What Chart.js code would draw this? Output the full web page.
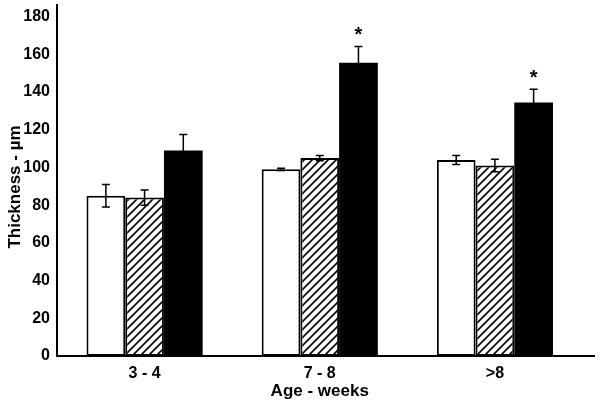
<!DOCTYPE html>
<html>
<head>
<meta charset="utf-8">
<script src="https://cdn.jsdelivr.net/npm/chart.js@4"></script>
<style>
html,body{margin:0;padding:0;background:#fff;}
#wrap{width:602px;height:408px;position:relative;}
</style>
</head>
<body>
<div id="wrap"><canvas id="c" width="602" height="408"></canvas></div>
<script>
const categories = ["3 - 4", "7 - 8", ">8"];
const whiteValues = [85, 99, 104];
const whiteErrors = [6, 0.6, 2.4];
const hatchValues = [84, 105, 101];
const hatchErrors = [4, 1.4, 3.3];
const blackValues = [109, 155.5, 134.5];
const blackErrors = [8.5, 8.7, 7];
const blackSignificant = [false, true, true];
const yTicks = [0, 20, 40, 60, 80, 100, 120, 140, 160, 180];
const xTitle = "Age - weeks";
const yTitle = "Thickness - µm";

const FONT = "'Liberation Sans', Arial, sans-serif";

function makeHatch() {
  const p = document.createElement('canvas');
  p.width = 8; p.height = 8;
  const g = p.getContext('2d');
  g.fillStyle = '#fff';
  g.fillRect(0, 0, 8, 8);
  g.strokeStyle = '#000';
  g.lineWidth = 1.6;
  g.beginPath();
  g.moveTo(-2, 10); g.lineTo(10, -2);
  g.moveTo(-2, 2); g.lineTo(2, -2);
  g.moveTo(6, 10); g.lineTo(10, 6);
  g.stroke();
  return document.getElementById('c').getContext('2d').createPattern(p, 'repeat');
}

const errorsByDataset = [whiteErrors, hatchErrors, blackErrors];
const starsByDataset = [null, null, blackSignificant];

const extras = {
  id: 'extras',
  afterDatasetsDraw(chart) {
    const ctx = chart.ctx;
    const y = chart.scales.y;
    const area = chart.chartArea;
    ctx.save();
    // axis extensions
    ctx.strokeStyle = '#000';
    ctx.lineWidth = 2;
    ctx.beginPath();
    ctx.moveTo(area.left, area.bottom);
    ctx.lineTo(595, area.bottom);
    ctx.moveTo(area.left, area.top);
    ctx.lineTo(area.left, 4);
    ctx.stroke();
    // error bars
    chart.data.datasets.forEach((ds, di) => {
      const meta = chart.getDatasetMeta(di);
      const errs = errorsByDataset[di];
      const stars = starsByDataset[di];
      meta.data.forEach((bar, i) => {
        const v = ds.data[i];
        const e = errs[i];
        const x = bar.x;
        const yt = y.getPixelForValue(v + e);
        const yb = y.getPixelForValue(v - e);
        ctx.strokeStyle = '#000';
        ctx.lineWidth = 1.5;
        ctx.beginPath();
        ctx.moveTo(x, yt); ctx.lineTo(x, yb);
        ctx.moveTo(x - 4, yt); ctx.lineTo(x + 4, yt);
        ctx.moveTo(x - 4, yb); ctx.lineTo(x + 4, yb);
        ctx.stroke();
        if (stars && stars[i]) {
          ctx.fillStyle = '#000';
          ctx.font = 'bold 20px ' + FONT;
          ctx.textAlign = 'center';
          ctx.textBaseline = 'alphabetic';
          ctx.fillText('*', x, yt - 5);
        }
      });
    });
    // axis titles
    ctx.fillStyle = '#000';
    ctx.textAlign = 'center';
    ctx.textBaseline = 'middle';
    ctx.font = 'bold 17px ' + FONT;
    ctx.fillText(xTitle, (area.left + area.right) / 2, 391);
    ctx.translate(15, 187);
    ctx.rotate(-Math.PI / 2);
    ctx.fillText(yTitle, 0, 0);
    ctx.restore();
  }
};

const hatch = makeHatch();

new Chart(document.getElementById('c'), {
  type: 'bar',
  data: {
    labels: categories,
    datasets: [
      { data: whiteValues, backgroundColor: '#fff', borderColor: '#000', borderWidth: 2, borderSkipped: false },
      { data: hatchValues, backgroundColor: hatch, borderColor: '#000', borderWidth: 2, borderSkipped: false },
      { data: blackValues, backgroundColor: '#000', borderColor: '#000', borderWidth: 0, borderSkipped: false }
    ]
  },
  options: {
    responsive: false,
    animation: false,
    devicePixelRatio: 1,
    layout: { padding: { left: 0, right: 19.5, top: 15, bottom: 0 } },
    plugins: { legend: { display: false }, tooltip: { enabled: false } },
    datasets: { bar: { barPercentage: 1, categoryPercentage: 0.663 } },
    scales: {
      x: {
        grid: { display: false, drawTicks: false },
        border: { display: true, color: '#000', width: 2 },
        ticks: { color: '#000', font: { family: FONT, size: 16, weight: 'bold' }, padding: 8 },
        afterFit(s) { s.height = 52; }
      },
      y: {
        min: 0, max: 180,
        afterBuildTicks(s) { s.ticks = yTicks.map(v => ({ value: v })); },
        grid: { display: false, drawTicks: false },
        border: { display: true, color: '#000', width: 2 },
        ticks: { color: '#000', font: { family: FONT, size: 16, weight: 'bold' }, padding: 7 },
        afterFit(s) { s.width = 57; }
      }
    }
  },
  plugins: [extras]
});
</script>
</body>
</html>
